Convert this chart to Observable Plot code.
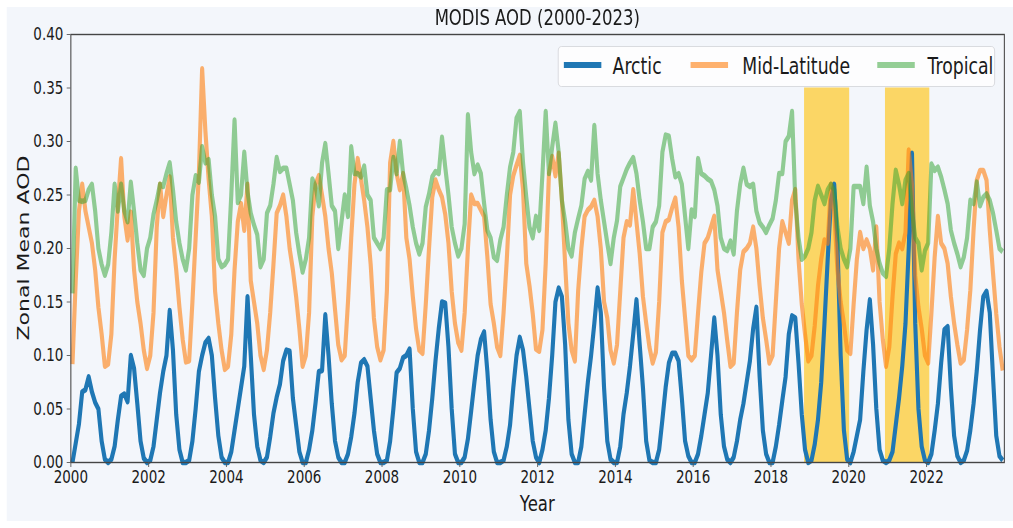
<!DOCTYPE html>
<html>
<head>
<meta charset="utf-8">
<script src="https://cdn.jsdelivr.net/npm/d3@7"></script>
<script src="https://cdn.jsdelivr.net/npm/@observablehq/plot@0.6"></script>
<style>
  html, body { margin: 0; padding: 0; background: #ffffff; overflow: hidden; }
  #stage { position: absolute; left: 0; top: 0; width: 1351px; height: 528px;
           transform: scaleX(0.7498); transform-origin: 0 0;
           font-family: "DejaVu Sans", sans-serif; color: #1a1a1a; }
  #figbg { position: absolute; left: 9px; top: 7px; width: 1342px; height: 514px; background: #f3f6fb; }
  #chart { position: absolute; left: 0; top: 0; }
  .title { position: absolute; left: 94px; width: 1245px; top: 7px; text-align: center;
           font-size: 22px; line-height: 22px; white-space: nowrap; }
  .xlabel { position: absolute; left: 94px; width: 1245px; top: 493px; text-align: center;
            font-size: 22px; line-height: 22px; }
  .ylabel { position: absolute; left: -118px; top: 237px; width: 300px; text-align: center;
            font-size: 22px; line-height: 22px; transform: rotate(-90deg); white-space: nowrap; }
  #legend { position: absolute; left: 744px; top: 46px; width: 583px; height: 41px; box-sizing: border-box;
            background: rgba(255,255,255,0.8); border: 1px solid #d4d6da; border-radius: 5px; }
  .sw { position: absolute; top: 15px; width: 50px; height: 6px; }
  .lt { position: absolute; top: 8px; font-size: 23px; line-height: 23px; white-space: nowrap; }
</style>
</head>
<body>
<div id="stage">
  <div id="figbg"></div>
  <div id="chart"></div>
  <div class="title">MODIS AOD (2000-2023)</div>
  <div class="xlabel">Year</div>
  <div class="ylabel">Zonal Mean AOD</div>
  <div id="legend"></div>
</div>
<script>
// ---- data (monthly zonal mean AOD, one row per year, Jan..Dec) ----
const years = [2000, 2001, 2002, 2003, 2004, 2005, 2006, 2007, 2008, 2009, 2010, 2011,
               2012, 2013, 2014, 2015, 2016, 2017, 2018, 2019, 2020, 2021, 2022, 2023];

const arctic = [
  [0, 0.018, 0.036, 0.066, 0.068, 0.08, 0.066, 0.056, 0.05, 0.02, 0.003, 0],
  [0.003, 0.015, 0.04, 0.062, 0.064, 0.057, 0.1, 0.088, 0.055, 0.02, 0.004, 0],
  [0.002, 0.015, 0.04, 0.065, 0.085, 0.1, 0.142, 0.105, 0.045, 0.012, 0, 0],
  [0.002, 0.02, 0.05, 0.085, 0.1, 0.112, 0.116, 0.1, 0.06, 0.025, 0.005, 0],
  [0, 0.01, 0.03, 0.05, 0.07, 0.09, 0.155, 0.1, 0.045, 0.015, 0.002, 0],
  [0.005, 0.024, 0.046, 0.061, 0.073, 0.095, 0.105, 0.104, 0.06, 0.035, 0.01, 0],
  [0, 0.012, 0.03, 0.056, 0.085, 0.086, 0.138, 0.1, 0.055, 0.02, 0.005, 0],
  [0, 0.008, 0.024, 0.046, 0.075, 0.093, 0.096, 0.09, 0.06, 0.03, 0.008, 0],
  [0, 0.002, 0.02, 0.05, 0.084, 0.088, 0.098, 0.1, 0.106, 0.05, 0.01, 0],
  [0, 0.008, 0.03, 0.06, 0.095, 0.125, 0.15, 0.149, 0.108, 0.05, 0.008, 0],
  [0, 0.005, 0.022, 0.048, 0.075, 0.1, 0.115, 0.122, 0.085, 0.04, 0.01, 0],
  [0, 0.002, 0.015, 0.035, 0.07, 0.1, 0.117, 0.105, 0.08, 0.05, 0.02, 0.005],
  [0, 0.012, 0.03, 0.06, 0.1, 0.15, 0.163, 0.155, 0.11, 0.04, 0.008, 0],
  [0, 0.015, 0.045, 0.075, 0.1, 0.13, 0.163, 0.14, 0.07, 0.02, 0.003, 0],
  [0, 0.015, 0.045, 0.065, 0.09, 0.12, 0.152, 0.11, 0.07, 0.02, 0.002, 0],
  [0, 0.012, 0.04, 0.07, 0.093, 0.102, 0.102, 0.095, 0.06, 0.02, 0.006, 0],
  [0, 0.008, 0.025, 0.045, 0.065, 0.1, 0.135, 0.1, 0.045, 0.015, 0.003, 0],
  [0.005, 0.02, 0.04, 0.055, 0.075, 0.095, 0.125, 0.145, 0.08, 0.03, 0.008, 0],
  [0, 0.015, 0.035, 0.058, 0.08, 0.12, 0.137, 0.135, 0.093, 0.045, 0.012, 0],
  [0.002, 0.017, 0.04, 0.075, 0.13, 0.19, 0.245, 0.26, 0.205, 0.1, 0.03, 0.003],
  [0, 0.01, 0.025, 0.04, 0.085, 0.124, 0.152, 0.11, 0.05, 0.012, 0.002, 0],
  [0.002, 0.01, 0.035, 0.06, 0.09, 0.13, 0.2, 0.289, 0.13, 0.05, 0.015, 0.002],
  [0, 0.008, 0.03, 0.055, 0.093, 0.124, 0.127, 0.07, 0.025, 0.006, 0, 0.002],
  [0.011, 0.03, 0.055, 0.086, 0.124, 0.155, 0.16, 0.14, 0.08, 0.025, 0.006, 0.002]
];

const midLatitude = [
  [0.092, 0.17, 0.235, 0.26, 0.235, 0.22, 0.205, 0.18, 0.145, 0.12, 0.09, 0.092],
  [0.12, 0.19, 0.24, 0.284, 0.23, 0.208, 0.234, 0.18, 0.15, 0.13, 0.105, 0.088],
  [0.1, 0.14, 0.22, 0.26, 0.23, 0.25, 0.267, 0.21, 0.18, 0.145, 0.115, 0.094],
  [0.095, 0.15, 0.21, 0.27, 0.368, 0.31, 0.265, 0.23, 0.16, 0.13, 0.105, 0.087],
  [0.09, 0.12, 0.18, 0.225, 0.242, 0.217, 0.26, 0.17, 0.15, 0.13, 0.1, 0.087],
  [0.105, 0.14, 0.185, 0.233, 0.24, 0.25, 0.23, 0.2, 0.18, 0.155, 0.125, 0.09],
  [0.1, 0.14, 0.23, 0.26, 0.268, 0.25, 0.23, 0.2, 0.177, 0.143, 0.11, 0.096],
  [0.1, 0.15, 0.21, 0.26, 0.284, 0.265, 0.245, 0.22, 0.185, 0.135, 0.108, 0.096],
  [0.105, 0.16, 0.28, 0.3, 0.27, 0.255, 0.27, 0.21, 0.19, 0.155, 0.125, 0.105],
  [0.102, 0.148, 0.2, 0.248, 0.264, 0.255, 0.248, 0.232, 0.205, 0.16, 0.13, 0.112],
  [0.105, 0.14, 0.2, 0.25, 0.242, 0.242, 0.236, 0.23, 0.192, 0.148, 0.13, 0.108],
  [0.1, 0.14, 0.19, 0.25, 0.268, 0.278, 0.287, 0.255, 0.186, 0.165, 0.139, 0.106],
  [0.104, 0.124, 0.186, 0.27, 0.286, 0.268, 0.289, 0.245, 0.185, 0.13, 0.105, 0.095],
  [0.16, 0.2, 0.23, 0.236, 0.239, 0.245, 0.23, 0.2, 0.15, 0.135, 0.105, 0.093],
  [0.11, 0.16, 0.21, 0.225, 0.222, 0.255, 0.225, 0.195, 0.155, 0.13, 0.108, 0.093],
  [0.103, 0.15, 0.215, 0.225, 0.227, 0.238, 0.247, 0.22, 0.17, 0.135, 0.1, 0.096],
  [0.1, 0.14, 0.178, 0.205, 0.21, 0.22, 0.23, 0.18, 0.16, 0.14, 0.114, 0.09],
  [0.093, 0.14, 0.18, 0.197, 0.2, 0.205, 0.22, 0.2, 0.165, 0.135, 0.115, 0.093],
  [0.1, 0.15, 0.2, 0.225, 0.215, 0.205, 0.245, 0.255, 0.19, 0.148, 0.12, 0.095],
  [0.1, 0.128, 0.165, 0.19, 0.208, 0.205, 0.26, 0.235, 0.18, 0.15, 0.13, 0.105],
  [0.102, 0.148, 0.19, 0.215, 0.2, 0.208, 0.2, 0.18, 0.22, 0.15, 0.115, 0.09],
  [0.108, 0.155, 0.195, 0.205, 0.2, 0.215, 0.292, 0.26, 0.175, 0.145, 0.125, 0.1],
  [0.093, 0.14, 0.192, 0.23, 0.205, 0.2, 0.186, 0.155, 0.13, 0.11, 0.093, 0.096],
  [0.124, 0.161, 0.217, 0.264, 0.273, 0.273, 0.264, 0.217, 0.177, 0.139, 0.108, 0.086]
];

const tropical = [
  [0.158, 0.275, 0.245, 0.244, 0.245, 0.255, 0.26, 0.235, 0.2, 0.185, 0.175, 0.185],
  [0.215, 0.26, 0.235, 0.26, 0.235, 0.225, 0.262, 0.235, 0.205, 0.18, 0.175, 0.2],
  [0.21, 0.232, 0.245, 0.26, 0.258, 0.27, 0.28, 0.255, 0.225, 0.205, 0.19, 0.18],
  [0.2, 0.25, 0.268, 0.262, 0.295, 0.28, 0.283, 0.25, 0.23, 0.19, 0.183, 0.185],
  [0.19, 0.25, 0.32, 0.243, 0.25, 0.29, 0.253, 0.233, 0.222, 0.213, 0.183, 0.19],
  [0.233, 0.24, 0.26, 0.285, 0.272, 0.275, 0.275, 0.26, 0.245, 0.215, 0.195, 0.178],
  [0.19, 0.21, 0.265, 0.258, 0.24, 0.28, 0.298, 0.27, 0.24, 0.235, 0.2, 0.225],
  [0.25, 0.23, 0.295, 0.27, 0.27, 0.267, 0.277, 0.25, 0.245, 0.21, 0.205, 0.2],
  [0.21, 0.255, 0.255, 0.285, 0.27, 0.3, 0.27, 0.256, 0.24, 0.22, 0.205, 0.195],
  [0.205, 0.239, 0.251, 0.267, 0.272, 0.27, 0.304, 0.276, 0.25, 0.22, 0.205, 0.193],
  [0.2, 0.223, 0.325, 0.29, 0.27, 0.278, 0.27, 0.242, 0.217, 0.21, 0.192, 0.189],
  [0.208, 0.22, 0.25, 0.276, 0.29, 0.322, 0.328, 0.28, 0.248, 0.22, 0.21, 0.23],
  [0.217, 0.27, 0.328, 0.27, 0.295, 0.317, 0.29, 0.245, 0.225, 0.2, 0.193, 0.215],
  [0.228, 0.24, 0.265, 0.272, 0.264, 0.315, 0.27, 0.245, 0.225, 0.205, 0.186, 0.21],
  [0.226, 0.258, 0.266, 0.274, 0.28, 0.285, 0.27, 0.245, 0.225, 0.2, 0.2, 0.22],
  [0.225, 0.24, 0.29, 0.306, 0.305, 0.284, 0.267, 0.27, 0.26, 0.23, 0.2, 0.236],
  [0.23, 0.284, 0.27, 0.268, 0.265, 0.263, 0.255, 0.24, 0.21, 0.2, 0.198, 0.207],
  [0.195, 0.235, 0.26, 0.275, 0.26, 0.258, 0.26, 0.235, 0.224, 0.22, 0.215, 0.222],
  [0.228, 0.245, 0.27, 0.27, 0.3, 0.305, 0.328, 0.245, 0.21, 0.19, 0.193, 0.2],
  [0.215, 0.245, 0.258, 0.25, 0.242, 0.255, 0.26, 0.255, 0.22, 0.2, 0.19, 0.183],
  [0.2, 0.258, 0.258, 0.258, 0.242, 0.276, 0.24, 0.225, 0.2, 0.186, 0.177, 0.174],
  [0.2, 0.242, 0.273, 0.26, 0.242, 0.264, 0.27, 0.235, 0.21, 0.205, 0.18, 0.198],
  [0.205, 0.279, 0.273, 0.276, 0.267, 0.255, 0.242, 0.217, 0.205, 0.195, 0.183, 0.192],
  [0.21, 0.245, 0.242, 0.262, 0.24, 0.248, 0.251, 0.245, 0.233, 0.217, 0.2, 0.197]
];

const seriesNames = ["Arctic", "Mid-Latitude", "Tropical"];
const seriesColors = ["#1f77b4", "#ff7f0e", "#2ca02c"];
const seriesOpacity = [1, 0.6, 0.5];

const xTicks = [2000, 2002, 2004, 2006, 2008, 2010, 2012, 2014, 2016, 2018, 2020, 2022];
const yTicks = [0, 0.05, 0.1, 0.15, 0.2, 0.25, 0.3, 0.35, 0.4];

// highlighted periods
const bandStart = [2018.86, 2020.94];
const bandEnd = [2020.02, 2022.08];
const bandTop = 0.35;

// ---- build ----
function toRecords(rows) {
  return rows.flatMap((row, yi) => row.map((v, mi) => ({t: years[yi] + (mi + 0.5) / 12, v})));
}
const seriesData = [arctic, midLatitude, tropical].map(toRecords);
const bands = bandStart.map((s, i) => ({x1: s, x2: bandEnd[i], y1: 0, y2: bandTop}));

const chart = Plot.plot({
  width: 1351,
  height: 528,
  marginLeft: 94,
  marginRight: 12,
  marginTop: 34,
  marginBottom: 66,
  style: {background: "transparent", fontFamily: "DejaVu Sans, sans-serif", fontSize: "18px", color: "#1a1a1a"},
  x: {domain: [2000, 2024]},
  y: {domain: [0, 0.4]},
  marks: [
    Plot.rect(bands, {x1: "x1", x2: "x2", y1: "y1", y2: "y2", fill: "#fbd665"}),
    ...seriesData.map((d, i) => Plot.line(d, {
      x: "t", y: "v", stroke: seriesColors[i], strokeOpacity: seriesOpacity[i],
      strokeWidth: 5.5, strokeLinejoin: "round", strokeLinecap: "butt"
    })),
    Plot.frame({stroke: "#454545", strokeWidth: 1.4}),
    Plot.axisX({ticks: xTicks, tickFormat: d => String(d), tickSize: 5, tickPadding: 3, stroke: "#555", label: null}),
    Plot.axisY({ticks: yTicks, tickFormat: d => d.toFixed(2), tickSize: 5, tickPadding: 5, stroke: "#555", label: null})
  ]
});
document.getElementById("chart").appendChild(chart);

// legend
const legend = document.getElementById("legend");
const swLeft = [7, 176, 425];
const txtLeft = [72, 245, 492];
seriesNames.forEach((name, i) => {
  const sw = document.createElement("div");
  sw.className = "sw";
  sw.style.left = swLeft[i] + "px";
  sw.style.background = seriesColors[i];
  sw.style.opacity = seriesOpacity[i];
  legend.appendChild(sw);
  const tx = document.createElement("div");
  tx.className = "lt";
  tx.style.left = txtLeft[i] + "px";
  tx.textContent = name;
  legend.appendChild(tx);
});
</script>
</body>
</html>
